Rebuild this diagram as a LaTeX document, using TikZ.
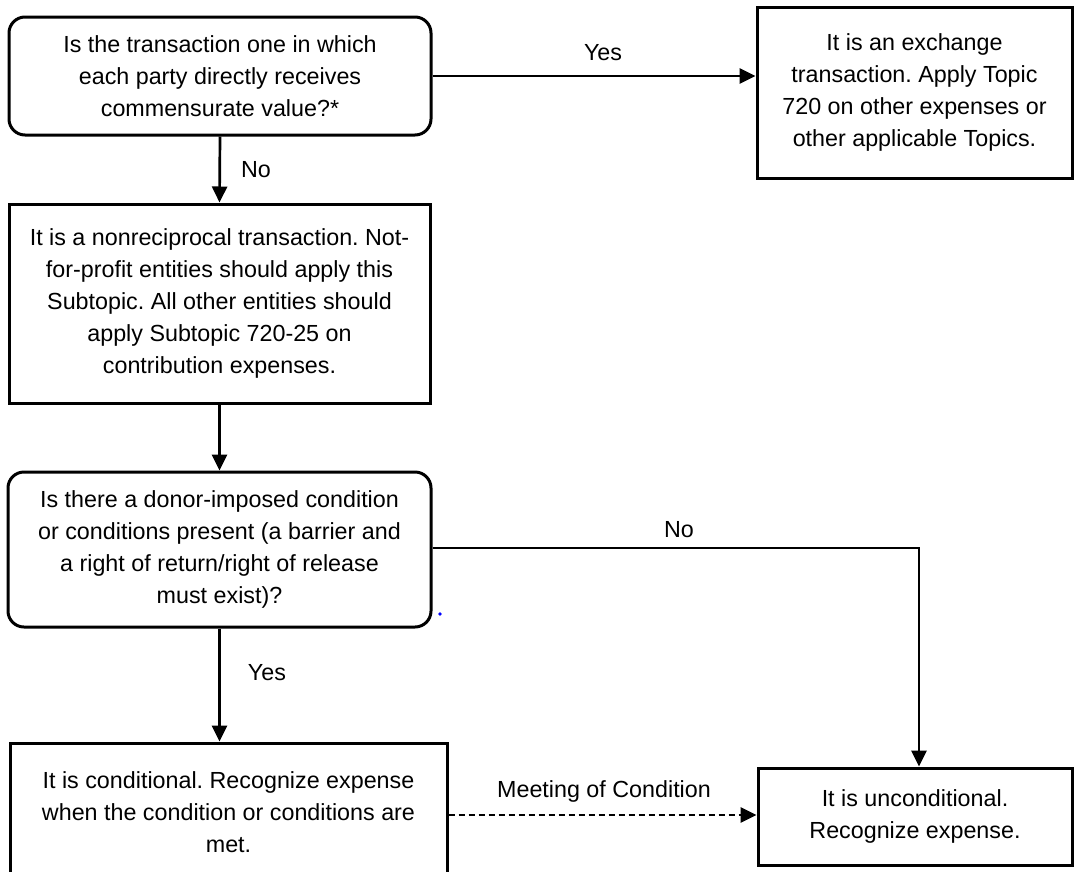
\documentclass[tikz,border=0pt]{standalone}
\usepackage{fontspec}
\setmainfont{Liberation Sans}
\usetikzlibrary{arrows.meta}
\frenchspacing
\begin{document}
\begin{tikzpicture}[x=1pt,y=-1pt,
  box/.style={draw, line width=3pt, align=center, inner sep=0pt,
    font=\fontsize{23.3}{32}\selectfont},
  rbox/.style={box, rounded corners=16pt},
  conn/.style={line width=2.7pt, -{Triangle[length=16pt,width=15pt]}},
  lab/.style={font=\fontsize{23.3}{28}\selectfont, inner sep=0pt}]
\useasboundingbox (0,0) rectangle (1075,871);
\fill[white] (0,0) rectangle (1075,871);

\node[rbox, minimum width=422pt, minimum height=118pt] (b1) at (220,76)
  {Is the transaction one in which\\each party directly receives\\commensurate value?*};
\node[box, minimum width=315pt, minimum height=171pt] (b2) at (914.5,92.5)
  {It is an exchange\\transaction. Apply Topic\\720 on other expenses or\\other applicable Topics.};
\node[box, minimum width=421pt, minimum height=199pt] (b3) at (219.5,303.5)
  {It is a nonreciprocal transaction. Not-\\for-profit entities should apply this\\Subtopic. All other entities should\\apply Subtopic 720-25 on\\contribution expenses.};
\node[rbox, minimum width=423pt, minimum height=155pt] (b4) at (219.5,549.5)
  {Is there a donor-imposed condition\\or conditions present (a barrier and\\a right of return/right of release\\must exist)?};
\node[box, minimum width=437pt, minimum height=138pt] (b5) at (228.5,812)
  {It is conditional. Recognize expense\\when the condition or conditions are\\met.};
\node[box, minimum width=314pt, minimum height=97pt] (b6) at (915,816.5)
  {It is unconditional.\\Recognize expense.};

\draw[conn] (b1.east) -- (b2.west |- b1.east);
\node[lab] (l1) at (603,53) {Yes};

\draw[conn] (b1.south) -- (b3.north);
\node[lab] (l2) at (256,170) {No};

\draw[conn] (b3.south) -- (b4.north);

\draw[conn] (b4.south) -- (b4.south |- b5.north);
\node[lab] (l3) at (267,673) {Yes};

\coordinate (c1) at (919,548);
\draw[conn] (b4.east |- c1) -- (c1) -- (c1 |- b6.north);
\node[lab] (l4) at (679,530) {No};

\draw[conn, dash pattern=on 6pt off 4pt] (b5.east |- 0,815) -- (b6.west |- 0,815);
\node[lab] (l5) at (604,791) {Meeting of Condition};

\fill[blue] (440,614) circle (1.8pt);
\end{tikzpicture}
\end{document}
